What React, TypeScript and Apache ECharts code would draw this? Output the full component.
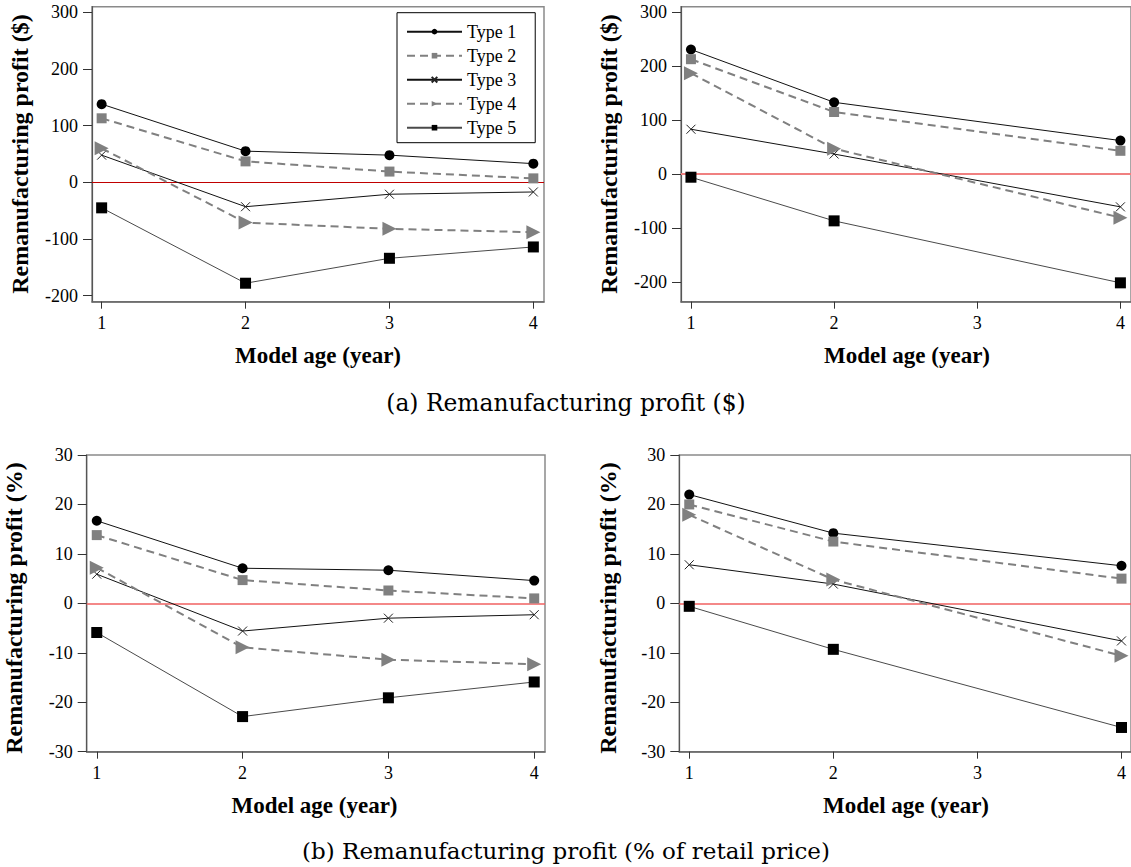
import React, { useEffect, useRef } from "react";
import * as echarts from "echarts";

// ---- data ----
const agesFull = [1, 2, 3, 4];
const agesShort = [1, 2, 4];
const typeNames = ["Type 1", "Type 2", "Type 3", "Type 4", "Type 5"];

// (a) left: remanufacturing profit ($)
const aLeftT1 = [138, 55, 48, 33];
const aLeftT2 = [113, 37, 19, 7];
const aLeftT3 = [48, -43, -21, -17];
const aLeftT4 = [60, -71, -82, -88];
const aLeftT5 = [-45, -178, -134, -114];

// (a) right: remanufacturing profit ($)
const aRightT1 = [231, 133, 62];
const aRightT2 = [213, 115, 43];
const aRightT3 = [83, 37, -61];
const aRightT4 = [187, 47, -81];
const aRightT5 = [-6, -87, -202];

// (b) left: remanufacturing profit (% of retail price)
const bLeftT1 = [16.7, 7.1, 6.7, 4.6];
const bLeftT2 = [13.8, 4.7, 2.6, 1.0];
const bLeftT3 = [5.9, -5.6, -3.0, -2.3];
const bLeftT4 = [7.2, -8.9, -11.4, -12.3];
const bLeftT5 = [-5.9, -22.9, -19.1, -15.9];

// (b) right
const bRightT1 = [22.0, 14.2, 7.6];
const bRightT2 = [20.0, 12.5, 5.0];
const bRightT3 = [7.8, 3.9, -7.6];
const bRightT4 = [17.9, 4.8, -10.6];
const bRightT5 = [-0.6, -9.3, -25.1];

const dollarTicks = [-200, -100, 0, 100, 200, 300];
const pctTicks = [-30, -20, -10, 0, 10, 20, 30];
const xTicks = [1, 2, 3, 4];

const yTitleDollar = "Remanufacturing profit ($)";
const yTitlePct = "Remanufacturing profit (%)";
const xTitle = "Model age (year)";
const captionA = "(a) Remanufacturing profit ($)";
const captionB = "(b) Remanufacturing profit (% of retail price)";

const SERIF = "Liberation Serif";
const X_PATH = "path://M0 0L10 10M10 0L0 10";

type Style = {
  symbol: string;
  size: number;
  color: string;
  lineColor: string;
  lineWidth: number;
  dashed: boolean;
  rotate?: number;
  stroke?: boolean;
};

const typeStyles: Style[] = [
  { symbol: "circle", size: 10, color: "#000", lineColor: "#111", lineWidth: 1, dashed: false },
  { symbol: "rect", size: 10, color: "#808080", lineColor: "#808080", lineWidth: 2, dashed: true },
  { symbol: X_PATH, size: 9, color: "#222", lineColor: "#111", lineWidth: 1, dashed: false, stroke: true },
  { symbol: "triangle", size: 14, color: "#808080", lineColor: "#808080", lineWidth: 2, dashed: true, rotate: -90 },
  { symbol: "rect", size: 11, color: "#000", lineColor: "#4a4a4a", lineWidth: 1, dashed: false },
];

function pairs(xs: number[], ys: number[]) {
  return xs.map((x, i) => [x, ys[i]]);
}

export default function App() {
  const ref = useRef<HTMLDivElement>(null);

  useEffect(() => {
    if (!ref.current) return;
    const chart = echarts.init(ref.current, undefined, { renderer: "svg" });

    const panels = [
      { left: 92, top: 6.7, width: 452, height: 295, xmin: 0.933, xmax: 4.074, ymin: -210.6, ymax: 309.9, ticks: dollarTicks, xs: agesFull, data: [aLeftT1, aLeftT2, aLeftT3, aLeftT4, aLeftT5], zero: { color: "#c00000", width: 1 } },
      { left: 681, top: 6.7, width: 452.4, height: 295, xmin: 0.9305, xmax: 4.074, ymin: -237, ymax: 310.4, ticks: dollarTicks, xs: agesShort, data: [aRightT1, aRightT2, aRightT3, aRightT4, aRightT5], zero: { color: "#f08080", width: 2 } },
      { left: 86.7, top: 455, width: 458.3, height: 296.7, xmin: 0.931, xmax: 4.074, ymin: -30, ymax: 30, ticks: pctTicks, xs: agesFull, data: [bLeftT1, bLeftT2, bLeftT3, bLeftT4, bLeftT5], zero: { color: "#f06060", width: 1.5 } },
      { left: 679.3, top: 455, width: 454, height: 296.7, xmin: 0.931, xmax: 4.066, ymin: -30, ymax: 30, ticks: pctTicks, xs: agesShort, data: [bRightT1, bRightT2, bRightT3, bRightT4, bRightT5], zero: { color: "#f06060", width: 1.5 } },
    ];

    const grid = panels.map((p) => ({
      left: p.left, top: p.top, width: p.width, height: p.height,
      show: true, borderColor: "#8a8a8a", borderWidth: 1.5, backgroundColor: "transparent",
    }));

    const xAxis = panels.map((p, i) => ({
      type: "value", gridIndex: i, min: p.xmin, max: p.xmax,
      axisLine: { show: true, onZero: false, lineStyle: { color: "#666", width: 1.5 } },
      axisTick: { show: true, length: 7, customValues: xTicks, lineStyle: { color: "#333" } },
      axisLabel: { customValues: xTicks, margin: 12, fontFamily: SERIF, fontSize: 18, color: "#000" },
      splitLine: { show: false },
    }));

    const yAxis = panels.map((p, i) => ({
      type: "value", gridIndex: i, min: p.ymin, max: p.ymax,
      axisLine: { show: true, onZero: false, lineStyle: { color: "#555", width: 1.2 } },
      axisTick: { show: true, length: 9, customValues: p.ticks, lineStyle: { color: "#333" } },
      axisLabel: { customValues: p.ticks, margin: 14, fontFamily: SERIF, fontSize: 18, color: "#000" },
      splitLine: { show: false },
    }));

    const series: any[] = [];
    panels.forEach((p, pi) => {
      p.data.forEach((ys, ti) => {
        const s = typeStyles[ti];
        const item: any = {
          type: "line",
          name: typeNames[ti],
          xAxisIndex: pi,
          yAxisIndex: pi,
          data: pairs(p.xs, ys),
          symbol: s.symbol,
          symbolSize: s.size,
          symbolRotate: s.rotate || 0,
          showSymbol: true,
          lineStyle: { color: s.lineColor, width: s.lineWidth, type: s.dashed ? [8, 5] : "solid" },
          itemStyle: s.stroke
            ? { color: "rgba(0,0,0,0)", borderColor: s.color, borderWidth: 1 }
            : { color: s.color, borderWidth: 0 },
          emphasis: { disabled: true },
          z: 3 + ti,
        };
        if (ti === 0) {
          item.markLine = {
            silent: true,
            symbol: "none",
            label: { show: false },
            lineStyle: { color: p.zero.color, width: p.zero.width, type: "solid" },
            data: [{ yAxis: 0 }],
            z: 1,
          };
        }
        series.push(item);
      });
    });

    const yTitles = [
      { x: 19.5, y: 154, text: yTitleDollar },
      { x: 609, y: 154, text: yTitleDollar },
      { x: 14, y: 608, text: yTitlePct },
      { x: 607.5, y: 608, text: yTitlePct },
    ];
    const xTitles = [
      { x: 318, y: 355 },
      { x: 907, y: 355 },
      { x: 314.5, y: 805 },
      { x: 906, y: 805 },
    ];

    const graphic: any[] = [];
    yTitles.forEach((t) =>
      graphic.push({
        type: "text", x: t.x, y: t.y, rotation: Math.PI / 2,
        style: { text: t.text, fontFamily: SERIF, fontWeight: "bold", fontSize: 24, textAlign: "center", textVerticalAlign: "middle", fill: "#000" },
      })
    );
    xTitles.forEach((t) =>
      graphic.push({
        type: "text", x: t.x, y: t.y,
        style: { text: xTitle, fontFamily: SERIF, fontWeight: "bold", fontSize: 23, textAlign: "center", textVerticalAlign: "middle", fill: "#000" },
      })
    );
    graphic.push({
      type: "text", x: 566, y: 403,
      style: { text: captionA, fontFamily: "DejaVu Serif", fontSize: 23.4, textAlign: "center", textVerticalAlign: "middle", fill: "#000" },
    });
    graphic.push({
      type: "text", x: 566, y: 851,
      style: { text: captionB, fontFamily: "DejaVu Serif", fontSize: 23, textAlign: "center", textVerticalAlign: "middle", fill: "#000" },
    });

    chart.setOption({
      animation: false,
      grid,
      xAxis,
      yAxis,
      series,
      graphic,
      legend: {
        show: true,
        data: typeNames,
        orient: "vertical",
        left: 397,
        top: 12.7,
        itemWidth: 55,
        itemHeight: 7,
        itemGap: 6,
        padding: [10, 19, 6, 9],
        borderColor: "#000",
        borderWidth: 1,
        backgroundColor: "#fff",
        selectedMode: false,
        textStyle: { fontFamily: SERIF, fontSize: 18, color: "#000" },
      },
    });

    return () => chart.dispose();
  }, []);

  return (
    <div
      ref={ref}
      style={{ position: "absolute", left: 0, top: 0, width: 1131, height: 867, background: "#fff" }}
    />
  );
}
